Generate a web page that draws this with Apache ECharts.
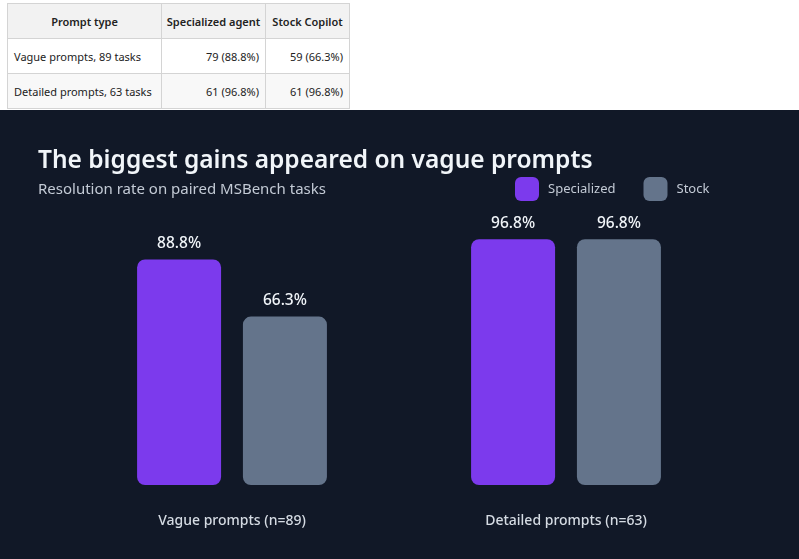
<!DOCTYPE html>
<html>
<head>
<meta charset="utf-8">
<script src="https://cdn.jsdelivr.net/npm/echarts@6/dist/echarts.min.js"></script>
<style>
  html, body { margin: 0; padding: 0; background: #ffffff; width: 799px; height: 559px; overflow: hidden; }
  #tbl { position: absolute; left: 7px; top: 3px; border-collapse: collapse; table-layout: fixed; width: 342px; font-family: "Noto Sans", "Open Sans", sans-serif; font-size: 11px; color: #222; }
  #tbl th, #tbl td { border: 1px solid #d4d4d4; height: 35px; padding: 0 6px; box-sizing: border-box; white-space: nowrap; overflow: hidden; }
  #tbl th { background: #f2f2f2; font-weight: 600; text-align: center; padding: 0 3px; }
  #tbl td { text-align: right; }
  #tbl td:first-child { text-align: left; }
  #tbl tr.alt td { background: #f8f8f8; }
  #chart { position: absolute; left: 0; top: 110px; width: 799px; height: 449px; background: #111827; }
</style>
</head>
<body>
<table id="tbl"></table>
<div id="chart"></div>
<script>
// ---- data ----
const tableHeaders = ['Prompt type', 'Specialized agent', 'Stock Copilot'];
const tableRowLabels = ['Vague prompts, 89 tasks', 'Detailed prompts, 63 tasks'];
const specializedCounts = [79, 61];
const stockCounts = [59, 61];
const categories = ['Vague prompts (n=89)', 'Detailed prompts (n=63)'];
const seriesNames = ['Specialized', 'Stock'];
const specializedRates = [88.8, 96.8];
const stockRates = [66.3, 96.8];

// ---- table ----
const colWidths = [154, 104, 84];
const tbl = document.getElementById('tbl');
let html = '<tr>' + tableHeaders.map((h, i) => '<th style="width:' + colWidths[i] + 'px">' + h + '</th>').join('') + '</tr>';
tableRowLabels.forEach((lab, i) => {
  html += '<tr' + (i % 2 === 1 ? ' class="alt"' : '') + '><td>' + lab + '</td><td>' +
    specializedCounts[i] + ' (' + specializedRates[i].toFixed(1) + '%)</td><td>' +
    stockCounts[i] + ' (' + stockRates[i].toFixed(1) + '%)</td></tr>';
});
tbl.innerHTML = html;

// ---- chart ----
const FONT = '"Noto Sans", "Open Sans", sans-serif';
const chart = echarts.init(document.getElementById('chart'), null, { renderer: 'canvas' });
const labelCfg = {
  show: true, position: 'top', distance: 8,
  color: '#f1f5f9', fontSize: 15.5, fontWeight: 500, fontFamily: FONT,
  formatter: p => p.value.toFixed(1) + '%'
};
chart.setOption({
  backgroundColor: '#111827',
  animation: false,
  title: {
    text: 'The biggest gains appeared on vague prompts',
    subtext: 'Resolution rate on paired MSBench tasks',
    left: 38, top: 39, padding: 0, itemGap: 8,
    textStyle: { color: '#f1f5f9', fontSize: 24.5, fontWeight: 600, fontFamily: FONT },
    subtextStyle: { color: '#c3cad5', fontSize: 15, fontWeight: 400, fontFamily: FONT }
  },
  legend: {
    left: 515, top: 67, padding: 0,
    itemWidth: 24, itemHeight: 24, itemGap: 28,
    icon: 'roundRect',
    textStyle: { color: '#c3cad5', fontSize: 13, fontFamily: FONT, padding: [0, 0, 0, 4] },
    data: seriesNames
  },
  grid: { left: 65, right: 66, top: 121, bottom: 74 },
  xAxis: {
    type: 'category', data: categories,
    axisLine: { show: false }, axisTick: { show: false },
    axisLabel: { color: '#d5dbe3', fontSize: 14, fontWeight: 500, fontFamily: FONT, margin: 29 }
  },
  yAxis: { type: 'value', min: 0, max: 100, show: false, splitLine: { show: false } },
  series: [
    { name: seriesNames[0], type: 'bar', data: specializedRates, barWidth: 84, barGap: '26%',
      itemStyle: { color: '#7c3aed', borderRadius: 8 }, label: labelCfg },
    { name: seriesNames[1], type: 'bar', data: stockRates, barWidth: 84,
      itemStyle: { color: '#64748b', borderRadius: 8 }, label: labelCfg }
  ]
});
</script>
</body>
</html>
